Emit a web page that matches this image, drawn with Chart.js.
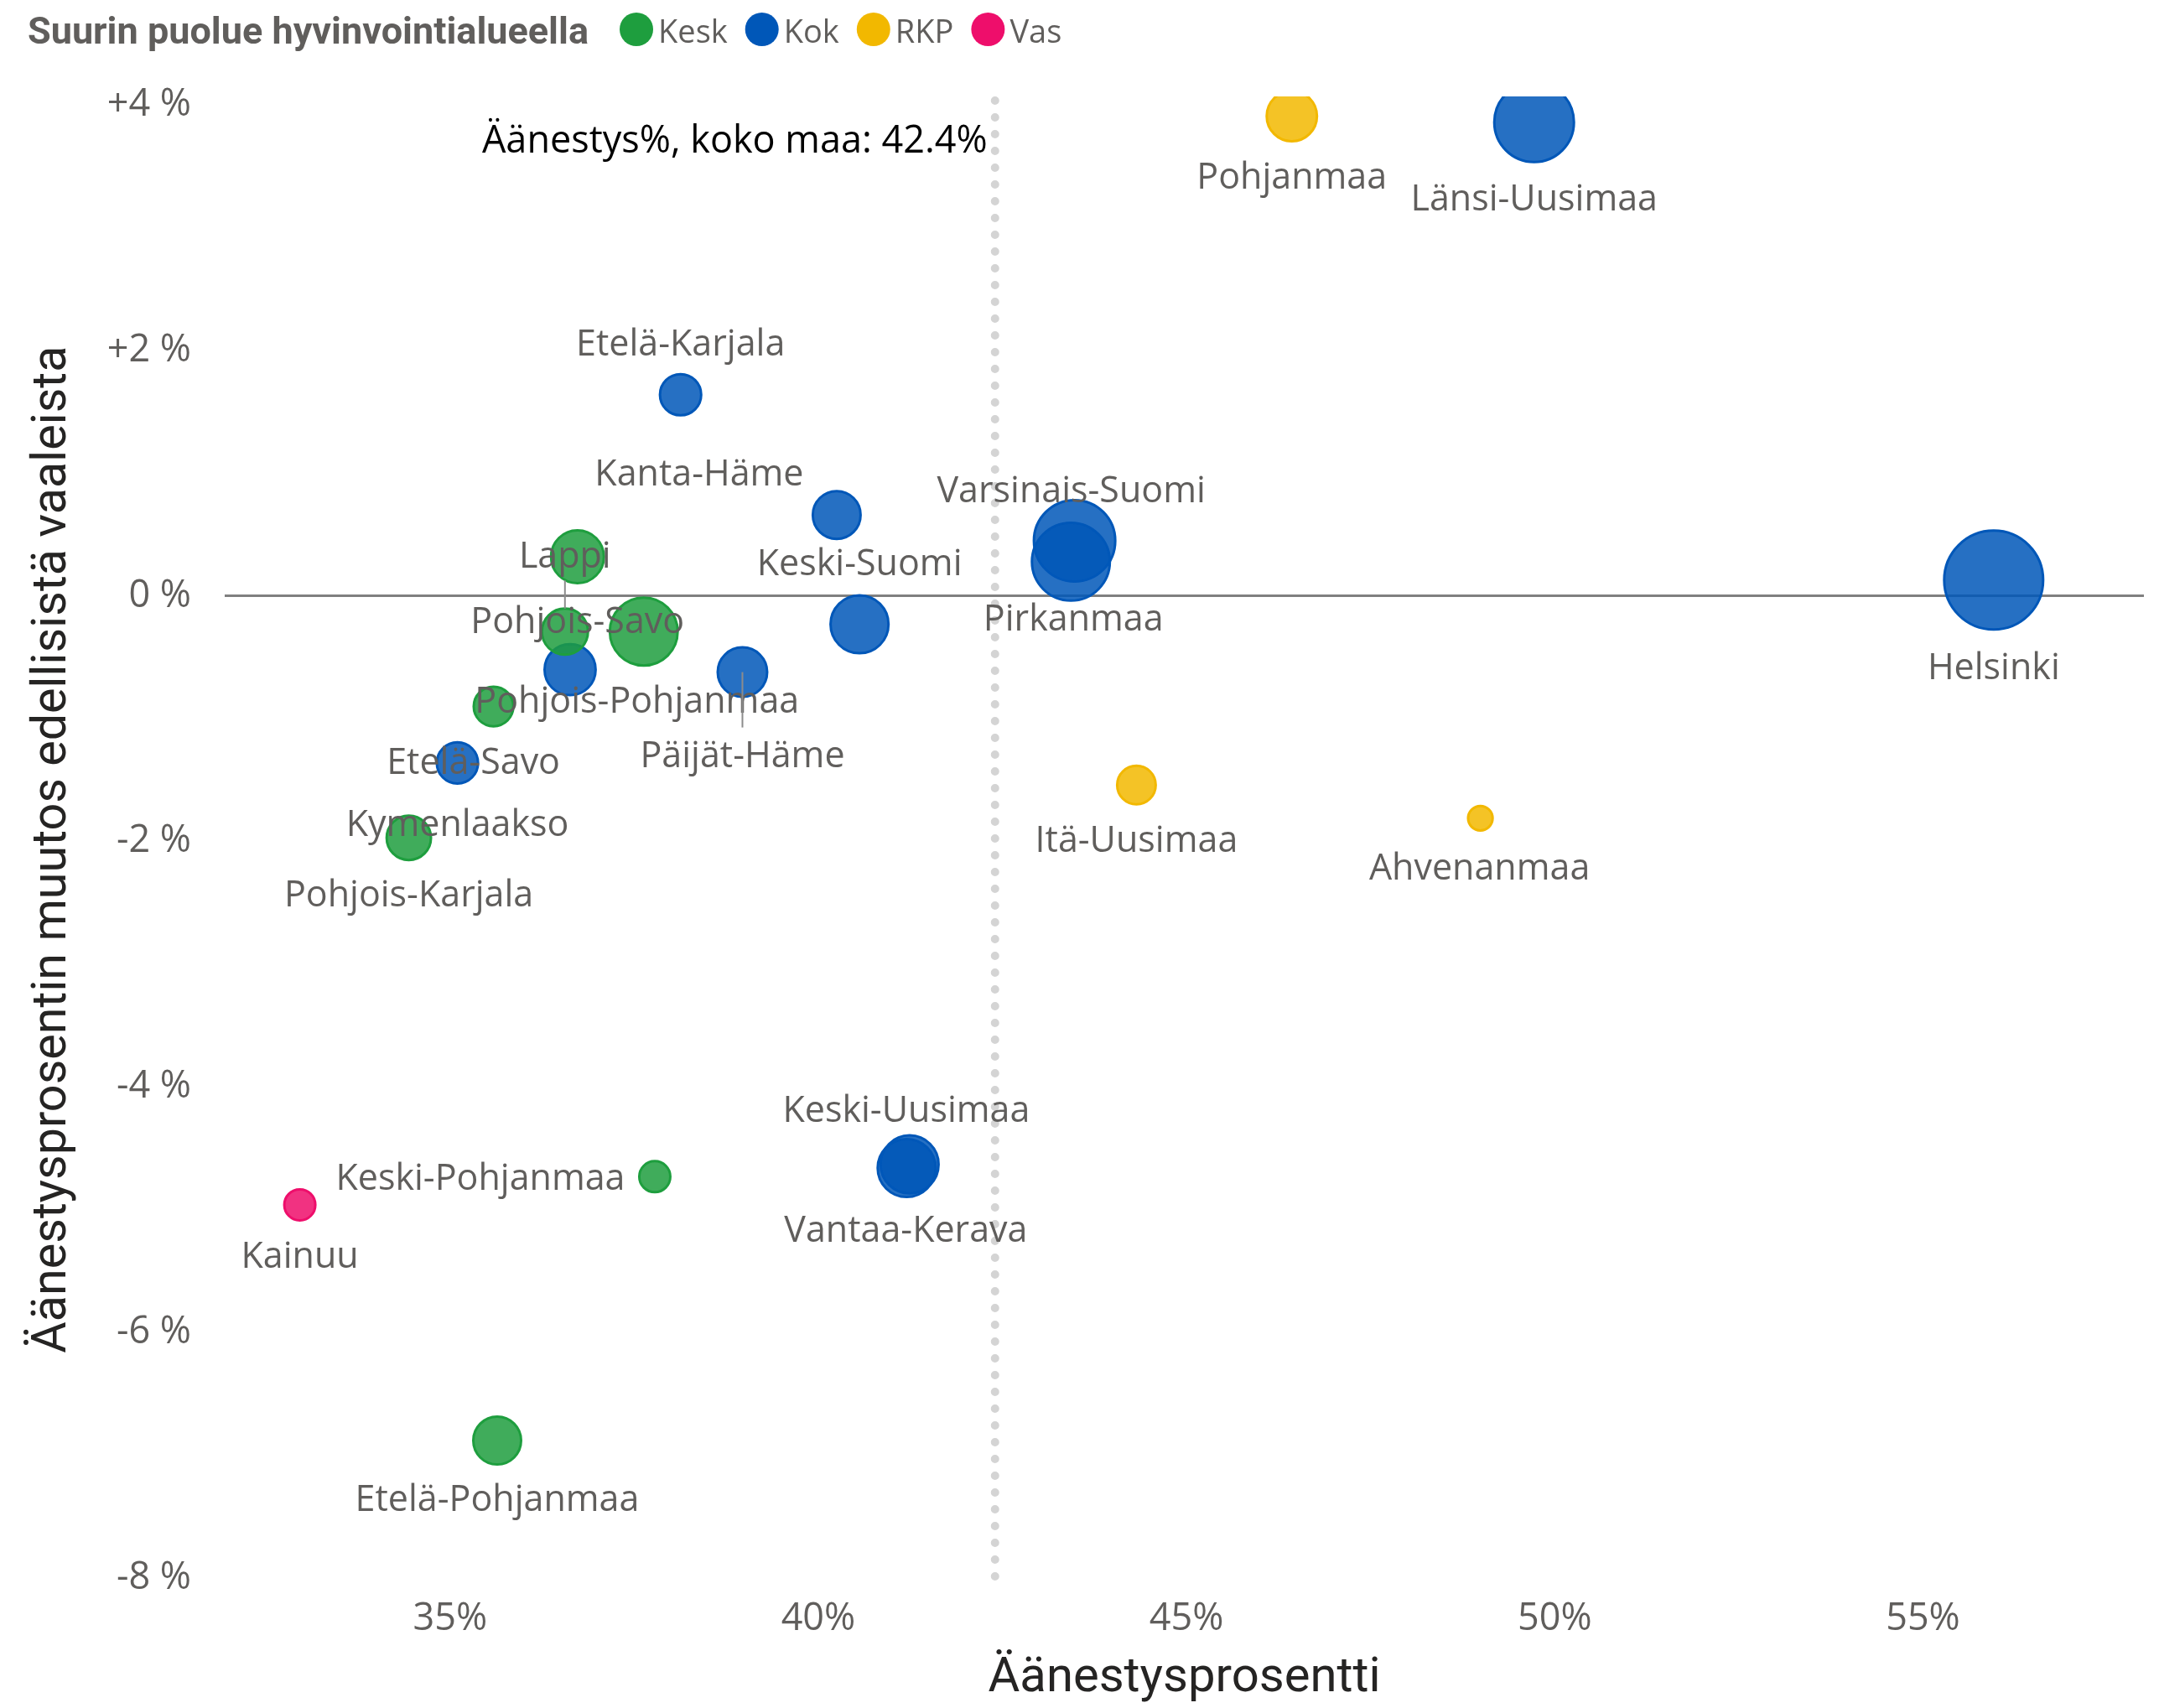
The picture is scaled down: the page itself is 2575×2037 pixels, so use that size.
<!DOCTYPE html>
<html><head><meta charset="utf-8">
<script src="https://cdn.jsdelivr.net/npm/chart.js@4/dist/chart.umd.min.js"></script>
<style>html,body{margin:0;padding:0;background:#fff;} canvas{display:block;}</style>
</head><body>
<canvas id="c" width="2575" height="2037"></canvas>
<script>
// ---- data ----
const regions = ['Pohjanmaa','Länsi-Uusimaa','Etelä-Karjala','Kanta-Häme','Varsinais-Suomi','Pirkanmaa','Keski-Suomi','Pohjois-Savo','Lappi','Pohjois-Pohjanmaa','Satakunta','Päijät-Häme','Etelä-Savo','Kymenlaakso','Pohjois-Karjala','Helsinki','Itä-Uusimaa','Ahvenanmaa','Keski-Uusimaa','Vantaa-Kerava','Keski-Pohjanmaa','Kainuu','Etelä-Pohjanmaa'];
const largestParty = ['RKP','Kok','Kok','Kok','Kok','Kok','Kok','Kesk','Kesk','Kesk','Kok','Kok','Kesk','Kok','Kesk','Kok','RKP','RKP','Kok','Kok','Kesk','Vas','Kesk'];
const turnout = [46.43,49.72,38.13,40.25,43.48,43.43,40.56,36.73,36.56,37.63,36.63,38.97,35.59,35.10,34.44,55.96,44.32,48.99,41.24,41.20,37.78,32.96,35.64];
const turnoutChange = [3.91,3.86,1.64,0.66,0.45,0.28,-0.23,0.32,-0.29,-0.29,-0.60,-0.62,-0.90,-1.36,-1.97,0.13,-1.54,-1.81,-4.63,-4.66,-4.73,-4.96,-6.88];
const bubbleWeight = [9.9,24.0,6.8,9.0,25.0,23.0,13.0,10.9,8.4,17.6,10.2,9.6,6.3,6.8,7.8,36.6,6.0,2.6,13.0,13.0,4.0,4.0,9.0];
const partyNames = ['Kesk','Kok','RKP','Vas'];
const xTickValues = [35,40,45,50,55];
const yTickValues = [-8,-6,-4,-2,0,2,4];
const nationalTurnout = 42.4;
const legendTitle = 'Suurin puolue hyvinvointialueella';
const xTitle = 'Äänestysprosentti';
const yTitle = 'Äänestysprosentin muutos edellisistä vaaleista';

// ---- styles ----
const partyColors = {Kesk:'#1E9E3E', Kok:'#0057B8', RKP:'#F2B800', Vas:'#EE0E6B'};
const textGray = '#605E5C';
const labelFont = "43px 'Open Sans', 'Noto Sans', sans-serif";
// label placement relative to bubble centre (px)
const labelPlacement = {
  'Pohjanmaa':[0,74],'Länsi-Uusimaa':[0,92],'Etelä-Karjala':[0,-60],'Kanta-Häme':[-164,-48],
  'Varsinais-Suomi':[-4,-59],'Pirkanmaa':[3,69],'Keski-Suomi':[0,-72],'Pohjois-Savo':[0,78],
  'Lappi':[0,-89],'Pohjois-Pohjanmaa':[-8,84],'Päijät-Häme':[0,100],'Etelä-Savo':[-24,67],
  'Kymenlaakso':[0,74],'Pohjois-Karjala':[0,69],'Helsinki':[0,105],'Itä-Uusimaa':[0,67],
  'Ahvenanmaa':[-1,60],'Keski-Uusimaa':[-4,-64],'Vantaa-Kerava':[-1,75],'Keski-Pohjanmaa':[-208,3],
  'Kainuu':[0,62],'Etelä-Pohjanmaa':[0,71]
};
const leaderLines = {'Lappi':'edge','Päijät-Häme':'center'};

Chart.defaults.font.family = "'Open Sans', 'Noto Sans', sans-serif";

const datasets = partyNames.map(p => ({
  label: p,
  legendColor: partyColors[p],
  backgroundColor: partyColors[p] + 'D9',
  borderColor: partyColors[p],
  borderWidth: 3,
  clip: 0,
  data: regions.map((name, i) => ({name, x: turnout[i], y: turnoutChange[i], r: 10*Math.sqrt(bubbleWeight[i]) - 1.5, party: largestParty[i]}))
          .filter(d => d.party === p)
}));

const refLinePlugin = {
  id: 'refLine',
  beforeDatasetsDraw(chart) {
    const {ctx, chartArea, scales} = chart;
    const x = scales.x.getPixelForValue(nationalTurnout);
    ctx.save();
    ctx.strokeStyle = '#D4D4D4';
    ctx.lineWidth = 10;
    ctx.lineCap = 'round';
    ctx.setLineDash([0, 20]);
    ctx.beginPath();
    ctx.moveTo(x, chartArea.top + 5);
    ctx.lineTo(x, chartArea.bottom);
    ctx.stroke();
    ctx.restore();
  },
  afterDatasetsDraw(chart) {
    const {ctx, chartArea, scales} = chart;
    const x = scales.x.getPixelForValue(nationalTurnout);
    ctx.save();
    ctx.font = "45px 'Open Sans', 'Noto Sans', sans-serif";
    ctx.fillStyle = '#000000';
    ctx.textAlign = 'right';
    ctx.textBaseline = 'alphabetic';
    ctx.fillText('Äänestys%, koko maa: ' + nationalTurnout.toFixed(1) + '%', x - 9, chartArea.top + 67);
    ctx.restore();
  }
};

const labelPlugin = {
  id: 'bubbleLabels',
  afterDatasetsDraw(chart) {
    const ctx = chart.ctx;
    ctx.save();
    ctx.font = labelFont;
    ctx.textAlign = 'center';
    ctx.textBaseline = 'alphabetic';
    chart.data.datasets.forEach((ds, di) => {
      const meta = chart.getDatasetMeta(di);
      meta.data.forEach((el, j) => {
        const d = ds.data[j];
        const pl = labelPlacement[d.name];
        if (!pl) return;
        const lx = el.x + pl[0], ly = el.y + pl[1];
        const mode = leaderLines[d.name];
        if (mode) {
          ctx.strokeStyle = '#8C8C8C';
          ctx.lineWidth = 2;
          ctx.beginPath();
          if (mode === 'edge') { ctx.moveTo(el.x, ly + 28); ctx.lineTo(el.x, el.y - d.r); }
          else { ctx.moveTo(el.x, el.y); ctx.lineTo(el.x, ly - 34); }
          ctx.stroke();
        }
        ctx.fillStyle = textGray;
        ctx.fillText(d.name, lx, ly + 13);
      });
    });
    ctx.restore();
  }
};

const legendPlugin = {
  id: 'customLegend',
  afterDraw(chart) {
    const ctx = chart.ctx;
    ctx.save();
    ctx.textBaseline = 'alphabetic';
    ctx.textAlign = 'left';
    ctx.font = "bold 45px Roboto, 'DejaVu Sans', sans-serif";
    ctx.fillStyle = textGray;
    ctx.fillText(legendTitle, 33, 52);
    let x = 33 + ctx.measureText(legendTitle).width + 37;
    ctx.font = "38px 'Open Sans', 'Noto Sans', sans-serif";
    chart.data.datasets.forEach(ds => {
      ctx.beginPath();
      ctx.arc(x + 20, 35, 20, 0, 2 * Math.PI);
      ctx.fillStyle = ds.legendColor;
      ctx.fill();
      ctx.fillStyle = textGray;
      ctx.fillText(ds.label, x + 46, 51);
      x += 46 + ctx.measureText(ds.label).width + 21;
    });
    ctx.restore();
  }
};

new Chart(document.getElementById('c'), {
  type: 'bubble',
  data: { datasets },
  options: {
    responsive: false,
    animation: false,
    events: [],
    layout: { autoPadding: false, padding: { top: 115, right: 18, left: 0, bottom: 0 } },
    plugins: { legend: { display: false }, tooltip: { enabled: false } },
    scales: {
      x: {
        type: 'linear', min: 31.94, max: 58,
        afterBuildTicks: s => { s.ticks = xTickValues.map(v => ({value: v})); },
        afterFit: s => { s.height = 155; },
        grid: { display: false }, border: { display: false },
        ticks: { padding: 14, color: textGray, font: { size: 45 }, callback: v => v + '%' },
        title: { display: true, text: xTitle, color: '#252423',
                 font: { family: "Roboto, 'DejaVu Sans', sans-serif", size: 58, lineHeight: 1.2 },
                 padding: { top: 0, bottom: 0 } }
      },
      y: {
        type: 'linear', min: -8, max: 4.07,
        afterBuildTicks: s => { s.ticks = yTickValues.map(v => ({value: v})); },
        afterFit: s => { s.width = 268; },
        grid: { color: c => (c.tick && c.tick.value === 0) ? '#808080' : 'rgba(0,0,0,0)', lineWidth: 3, drawTicks: false },
        border: { display: false },
        ticks: { padding: 40, color: textGray, font: { size: 45 }, callback: v => (v > 0 ? '+' : '') + v + ' %' },
        title: { display: true, text: yTitle + '\u2002', color: '#252423',
                 font: { family: "Roboto, 'DejaVu Sans', sans-serif", size: 57.5, lineHeight: 1.2 },
                 padding: { top: 29, bottom: 0 } }
      }
    }
  },
  plugins: [refLinePlugin, labelPlugin, legendPlugin]
});
</script>
</body></html>
